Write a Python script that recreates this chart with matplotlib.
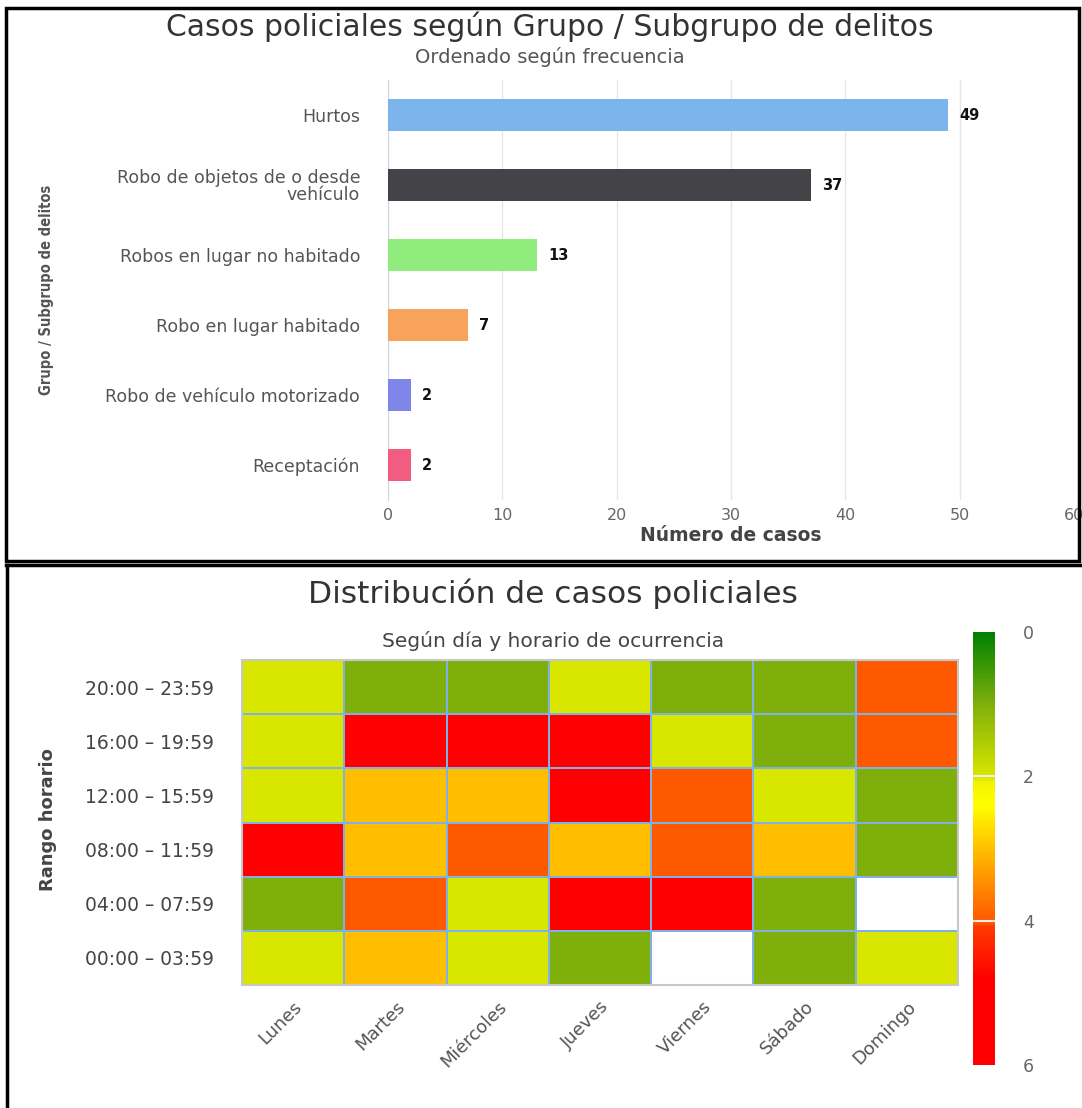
import matplotlib
matplotlib.use('Agg')
import matplotlib.pyplot as plt
import numpy as np
from matplotlib.colors import LinearSegmentedColormap, Normalize
from matplotlib.lines import Line2D
from matplotlib.patches import Rectangle

W, H = 1082, 1108

# --- datos grafico de barras ---
delitos = ['Hurtos', 'Robo de objetos de o desde\nvehículo', 'Robos en lugar no habitado',
           'Robo en lugar habitado', 'Robo de vehículo motorizado', 'Receptación']
casos = [49, 37, 13, 7, 2, 2]
colores_barras = ['#7cb5ec', '#434348', '#90ed7d', '#f7a35c', '#8085e9', '#f15c80']

# --- datos mapa de calor ---
dias = ['Lunes', 'Martes', 'Miércoles', 'Jueves', 'Viernes', 'Sábado', 'Domingo']
horarios = ['20:00 – 23:59', '16:00 – 19:59', '12:00 – 15:59',
            '08:00 – 11:59', '04:00 – 07:59', '00:00 – 03:59']
casos_horario = [
    [2, 1, 1, 2, 1, 1, 4],
    [2, 5, 5, 5, 2, 1, 4],
    [2, 3, 3, 5, 4, 2, 1],
    [5, 3, 4, 3, 4, 3, 1],
    [1, 4, 2, 5, 5, 1, np.nan],
    [2, 3, 2, 1, np.nan, 1, 2],
]
escala_ticks = [0, 2, 4, 6]


def rect(x0, y0, x1, y1):
    return [x0 / W, 1 - y1 / H, (x1 - x0) / W, (y1 - y0) / H]


fig = plt.figure(figsize=(W / 100, H / 100), dpi=100)
plt.rcParams['font.family'] = ['DejaVu Sans']

# ================= grafico de barras =================
ax = fig.add_axes(rect(388, 80, 1074, 500))
ypos = np.arange(len(delitos))
ax.barh(ypos, casos, height=0.45, color=colores_barras, zorder=3)
for y, v in zip(ypos, casos):
    ax.text(v + 1.0, y, str(v), va='center', ha='left', fontsize=10.5,
            fontweight='bold', color='#111111')
ax.set_ylim(len(delitos) - 0.5, -0.5)
ax.set_xlim(0, 60)
ax.set_xticks(range(0, 61, 10))
ax.set_yticks(ypos)
ax.set_yticklabels(delitos, fontsize=12.5, color='#555555', ha='right',
                   linespacing=0.95)
ax.tick_params(axis='y', length=0, pad=20)
ax.tick_params(axis='x', length=0, pad=6, labelsize=11.5, labelcolor='#666666')
ax.grid(axis='x', color='#e6e6e6', linewidth=1, zorder=0)
for s in ['top', 'right', 'bottom']:
    ax.spines[s].set_visible(False)
ax.spines['left'].set_color('#ccd6eb')
ax.set_xlabel('Número de casos', fontsize=13.5, fontweight='bold', color='#444444',
              labelpad=2)
fig.text(47 / W, 1 - 290 / H, 'Grupo / Subgrupo de delitos', rotation=90,
         ha='center', va='center', fontsize=10.5, fontstretch='condensed',
         fontweight='bold', family=['DejaVu Sans'], color='#555555')
fig.text(550 / W, 1 - 27 / H, 'Casos policiales según Grupo / Subgrupo de delitos',
         ha='center', va='center', fontsize=21.5, color='#333333')
fig.text(550 / W, 1 - 57 / H, 'Ordenado según frecuencia', ha='center', va='center',
         fontsize=14, color='#555555')

# ================= mapa de calor =================
cmap = LinearSegmentedColormap.from_list('semaforo', [
    (0.0, '#008000'),
    (1.0 / 6, '#80b00a'),
    (2.04 / 6, '#dde800'),
    (2.07 / 6, '#f2f200'),
    (2.4 / 6, '#ffff00'),
    (3.0 / 6, '#ffbf00'),
    (4.04 / 6, '#ff5500'),
    (4.07 / 6, '#ff3c00'),
    (4.8 / 6, '#ff0000'),
    (1.0, '#ff0000'),
])
norm = Normalize(vmin=0, vmax=6)

axh = fig.add_axes(rect(242, 660, 958, 985))
datos = np.ma.masked_invalid(np.array(casos_horario, dtype=float))
mesh = axh.pcolormesh(datos, cmap=cmap, norm=norm, edgecolors='#7fb0e8',
                      linewidth=1.2)
axh.set_xlim(0, len(dias))
axh.set_ylim(len(horarios), 0)
axh.set_xticks(np.arange(len(dias)) + 0.5)
axh.set_xticklabels(dias, rotation=45, ha='right', rotation_mode='anchor',
                    fontsize=13, color='#555555')
axh.set_yticks(np.arange(len(horarios)) + 0.5)
axh.set_yticklabels(horarios, fontsize=13.5, color='#444444')
axh.tick_params(axis='x', length=0, pad=9)
axh.tick_params(axis='y', length=0, pad=20)
for s in axh.spines.values():
    s.set_color('#c8c8c8')
    s.set_linewidth(1.5)
fig.text(48 / W, 1 - 820 / H, 'Rango horario', rotation=90, ha='center',
         va='center', fontsize=13, fontweight='bold', color='#444444')
fig.text(553 / W, 1 - 594 / H, 'Distribución de casos policiales', ha='center',
         va='center', fontsize=22.5, color='#333333')
fig.text(553 / W, 1 - 641 / H, 'Según día y horario de ocurrencia', ha='center',
         va='center', fontsize=14.5, color='#444444')

cax = fig.add_axes(rect(973, 632, 995, 1065))
cb = fig.colorbar(mesh, cax=cax, ticks=escala_ticks)
cb.outline.set_visible(False)
cax.invert_yaxis()
cax.tick_params(length=0, pad=20, labelsize=12.5, labelcolor='#666666')
for t in [2, 4]:
    cax.axhline(t, color='#eeeeee', linewidth=1.5)

# ================= marcos =================
fig.patches.append(Rectangle((6 / W, 1 - 561 / H), 1073 / W, 553 / H,
                             transform=fig.transFigure, fill=False,
                             edgecolor='black', linewidth=2.5))
fig.lines.append(Line2D([6 / W, 1], [1 - 565 / H, 1 - 565 / H],
                        transform=fig.transFigure, color='black', linewidth=2.5))
fig.lines.append(Line2D([7 / W, 7 / W], [1 - 565 / H, 0],
                        transform=fig.transFigure, color='black', linewidth=2.5))

fig.savefig('out.png', dpi=100, facecolor='white')
